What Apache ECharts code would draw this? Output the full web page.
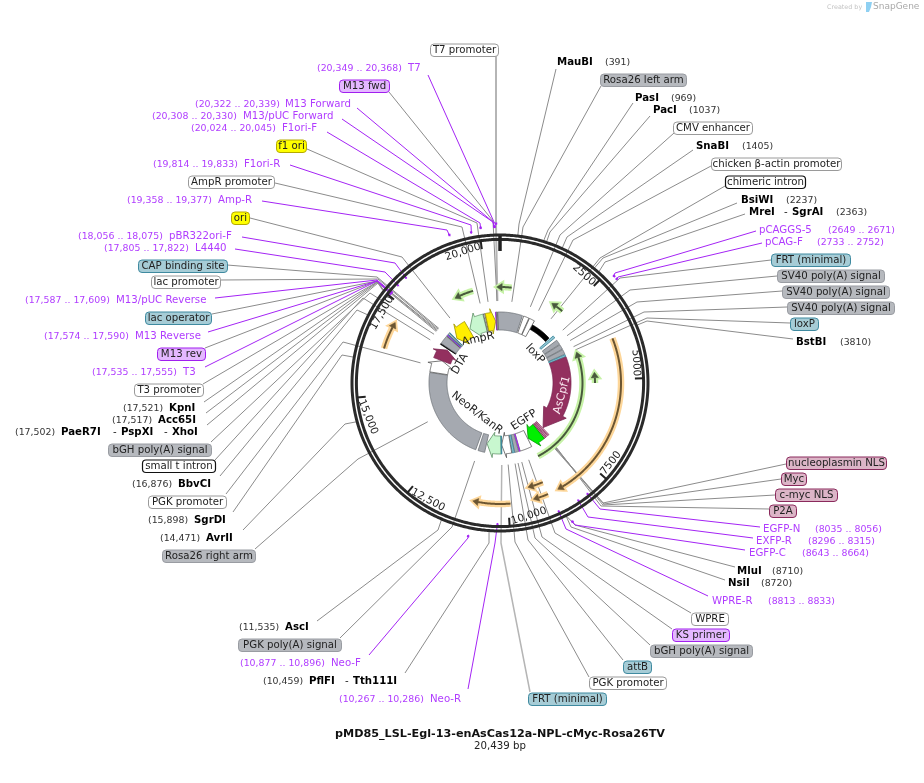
<!DOCTYPE html>
<html>
<head>
<meta charset="utf-8">
<title>pMD85 plasmid map</title>
<script src="https://cdn.jsdelivr.net/npm/echarts@6/dist/echarts.min.js"></script>
<style>
html, body { margin: 0; padding: 0; background: #fff; }
#main { width: 924px; height: 783px; }
</style>
</head>
<body>
<div id="main"></div>
<script>
// plasmid
const plasmidName = 'pMD85_LSL-Egl-13-enAsCas12a-NPL-cMyc-Rosa26TV';
const plasmidLength = 20439;

// ruler
const tickValues = [2500, 5000, 7500, 10000, 12500, 15000, 17500, 20000];
const tickLabels = ['2500', '5000', '7500', '10,000', '12,500', '15,000', '17,500', '20,000'];

// restriction sites
const siteNames = ['MauBI', 'PasI', 'PacI', 'SnaBI', 'BsiWI', 'MreI', 'SgrAI', 'BstBI', 'MluI', 'NsiI', 'PflFI', 'Tth111I', 'AscI', 'AvrII', 'SgrDI', 'BbvCI', 'PaeR7I', 'PspXI', 'XhoI', 'Acc65I', 'KpnI'];
const siteBp = [391, 969, 1037, 1405, 2237, 2363, 2363, 3810, 8710, 8720, 10459, 10459, 11535, 14471, 15898, 16876, 17502, 17502, 17502, 17517, 17521];

// primers
const primerNames = ['pCAGGS-5', 'pCAG-F', 'EGFP-N', 'EXFP-R', 'EGFP-C', 'WPRE-R', 'Neo-R', 'Neo-F', 'T3', 'M13 Reverse', 'M13/pUC Reverse', 'L4440', 'pBR322ori-F', 'Amp-R', 'F1ori-R', 'F1ori-F', 'M13/pUC Forward', 'M13 Forward', 'T7'];
const primerStart = [2649, 2733, 8035, 8296, 8643, 8813, 10267, 10877, 17535, 17574, 17587, 17805, 18056, 19358, 19814, 20024, 20308, 20322, 20349];
const primerEnd = [2671, 2752, 8056, 8315, 8664, 8833, 10286, 10896, 17555, 17590, 17609, 17822, 18075, 19377, 19833, 20045, 20330, 20339, 20368];

// features of the inner ring
const featureNames = ['Rosa26 left arm', 'CMV enhancer', 'chicken β-actin promoter', 'chimeric intron', 'FRT (minimal)', 'SV40 poly(A) signal', 'SV40 poly(A) signal', 'SV40 poly(A) signal', 'loxP', 'AsCpf1', 'nucleoplasmin NLS', 'Myc', 'c-myc NLS', 'P2A', 'EGFP', 'WPRE', 'KS primer', 'bGH poly(A) signal', 'attB', 'PGK promoter', 'NeoR/KanR', 'PGK poly(A) signal', 'Rosa26 right arm', 'PGK promoter', 'DTA', 'small t intron', 'bGH poly(A) signal', 'T3 promoter', 'M13 rev', 'lac operator', 'lac promoter', 'CAP binding site', 'ori', 'AmpR', 'AmpR promoter', 'f1 ori', 'M13 fwd', 'T7 promoter', 'FRT (minimal)'];
const featureStart = [20337, 1107, 1391, 1675, 2754, 3009, 3265, 3520, 3776, 3890, 7750, 7835, 7920, 7977, 8034, 8715, 9295, 9358, 9556, 9680, 10163, 10929, 11355, 15840, 16521, 17203, 17260, 17680, 17720, 17760, 17800, 17870, 17941, 18793, 19672, 19758, 20230, 20270, 10134];
const featureEnd = [21484, 1363, 1646, 2697, 2867, 3236, 3492, 3747, 3861, 7721, 7807, 7892, 7977, 8034, 8686, 9283, 9335, 9538, 9652, 10134, 10901, 11241, 15811, 16521, 17146, 17260, 17657, 17700, 17745, 17785, 17860, 17890, 18736, 19644, 19729, 20212, 20265, 20320, 10163];
const featureDir = [0, 0, 0, 0, 0, 0, 0, 0, 0, 1, 0, 0, 0, 0, 1, 0, 0, 0, 0, 1, 1, 0, 0, 1, 1, 0, 0, 0, 0, 0, 0, 0, -1, -1, 0, 1, 0, 0, 0];
const featureHead = [0, 0, 0, 0, 0, 0, 0, 0, 0, 1021, 0, 0, 0, 0, 340, 0, 0, 0, 0, 200, 340, 0, 0, 280, 280, 0, 0, 0, 0, 0, 0, 0, 340, 450, 0, 220, 0, 0, 0];
const featureKind = ['gray', 'white', 'white', 'black', 'teal', 'gray', 'gray', 'gray', 'teal', 'plum', 'nls', 'nls', 'nls', 'nls', 'lime', 'white', 'purple', 'gray', 'teal', 'white', 'mint', 'gray', 'gray', 'white', 'plum', 'black', 'gray', 'white', 'purple', 'teal', 'white', 'teal', 'yellow', 'mint', 'white', 'yellow', 'purple', 'white', 'teal'];

// translated frames, tail then head
const orfTail = [397, 19514, 2322, 5110, 8658, 3878, 8897, 8891, 9936, 16272];
const orfHead = [-114, 18849, 1874, 4741, 3861, 8601, 9368, 9311, 10958, 17033];
const orfKind = ['green', 'green', 'green', 'green', 'green', 'orange', 'orange', 'orange', 'orange', 'orange'];

// ---- layout, page pixels ----
const CX = 500, CY = 383, R = 149;
const orfRadius = [96, 96, 95, 95, 82.5, 121, 108, 121, 121, 121];

// feature index, box x0, x1, y, anchor x, y, elbow x, y, tip bp, line width
const featureLabels = [
    [37, 430, 498, 50, 496, 56, 496, 225, 20337, 2],
    [36, 339, 389, 86, 389, 92, 493, 221, 20320, 1],
    [35, 276, 306, 146, 307, 149, 477, 223, 19962, 1],
    [34, 188, 274, 182, 275, 183, 462, 227, 19642, 1],
    [32, 231, 249, 218, 250, 218, 402, 257, 18303, 1],
    [31, 138, 227, 266, 227, 265, 377, 277, 17700, 1],
    [30, 151, 220, 282, 220, 280, 378, 279, 17660, 1],
    [29, 145, 211, 318, 212, 314, 377, 281, 17620, 1],
    [28, 157, 205, 354, 205, 348, 377, 281, 17580, 1],
    [27, 134, 203, 390, 203, 384, 377, 282, 17540, 1],
    [26, 108, 211, 450, 211, 442, 370, 293, 17400, 1],
    [25, 142, 215, 466, 215, 460, 363, 298, 17130, 1],
    [23, 148, 226, 502, 226, 494, 343, 342, 16136, 1],
    [22, 162, 255, 556, 255, 549, 358, 459, 13728, 1],
    [21, 238, 341, 645, 340, 638, 452, 527, 11243, 1],
    [38, 528, 606, 699, 530, 692, 501, 543, 10150, 1.5],
    [19, 589, 666, 683, 589, 677, 515, 542, 9895, 1],
    [18, 623, 651, 667, 623, 660, 528, 540, 9618, 1],
    [17, 650, 752, 651, 650, 645, 535, 538, 9498, 1],
    [16, 672, 729, 635, 672, 629, 542, 537, 9345, 1],
    [15, 691, 728, 619, 691, 613, 555, 533, 9056, 1],
    [13, 769, 796, 511, 769, 509, 601, 506, 7870, 1],
    [12, 775, 837, 495, 775, 495, 603, 505, 7900, 1],
    [11, 781, 806, 479, 781, 479, 604, 504, 7930, 1],
    [10, 786, 886, 463, 786, 464, 603, 503, 7960, 1],
    [8, 790, 818, 324, 790, 323, 647, 318, 3764, 1],
    [7, 787, 894, 308, 787, 307, 644, 312, 3617, 1],
    [6, 782, 889, 292, 782, 291, 637, 302, 3338, 1],
    [5, 777, 884, 276, 777, 276, 630, 290, 3111, 1],
    [4, 771, 850, 260, 771, 260, 620, 278, 2833, 1],
    [3, 725, 805, 182, 725, 186, 600, 258, 2185, 1],
    [2, 711, 841, 164, 711, 166, 573, 240, 1595, 1],
    [1, 673, 752, 128, 674, 133, 560, 235, 1234, 1],
    [0, 600, 686, 80, 601, 86, 523, 227, 472, 1]
];

// site indexes on the row, their x, number x, y, anchor x, y, elbow x, y
const siteRows = [
    [[0], [557], 605, 62, 556, 69, 519, 224],
    [[1], [635], 671, 98, 633, 103, 548, 230],
    [[2], [653], 689, 110, 650, 116, 550, 232],
    [[3], [696], 742, 146, 693, 150, 567, 237],
    [[4], [741], 786, 200, 737, 203, 603, 258],
    [[5, 6], [749, 792], 836, 212, 745, 214, 605, 262],
    [[7], [796], 840, 342, 793, 339, 647, 321],
    [[8], [737], 772, 571, 735, 567, 575, 525],
    [[9], [728], 761, 583, 725, 580, 571, 527],
    [[10, 11], [309, 353], 263, 681, 405, 673, 489, 543],
    [[12], [285], 239, 627, 317, 621, 438, 530],
    [[13], [206], 160, 538, 243, 530, 345, 424],
    [[14], [194], 148, 520, 233, 512, 342, 355],
    [[15], [178], 132, 484, 220, 476, 357, 310],
    [[16, 17, 18], [61, 121, 172], 15, 432, 207, 425, 378, 283],
    [[19], [158], 112, 420, 206, 413, 378, 282],
    [[20], [169], 123, 408, 204, 402, 377, 282]
];

// name x, number x, y, anchor x, y, elbow x, y, mark radius, for each primer
const primerRows = [
    [759, 828, 230, 756, 231, 615, 273, 155],
    [765, 817, 242, 762, 243, 618, 277, 155],
    [763, 815, 529, 760, 527, 600, 509, 140],
    [756, 808, 541, 753, 538, 588, 517, 140],
    [749, 802, 553, 745, 550, 575, 525, 155],
    [712, 768, 601, 708, 596, 566, 529, 140],
    [430, 339, 699, 468, 689, 495, 543, 140],
    [331, 240, 663, 369, 655, 468, 538, 155],
    [183, 92, 372, 205, 367, 377, 281, 140],
    [135, 44, 336, 208, 332, 377, 281, 140],
    [116, 25, 300, 215, 298, 377, 280, 140],
    [195, 104, 248, 235, 249, 385, 272, 140],
    [169, 78, 236, 242, 237, 395, 263, 140],
    [218, 127, 200, 262, 201, 447, 230, 155],
    [244, 153, 164, 290, 165, 471, 225, 152],
    [282, 191, 128, 327, 132, 480, 223, 155],
    [243, 152, 116, 342, 119, 493, 222, 155],
    [285, 195, 104, 357, 108, 493, 222, 155],
    [408, 317, 68, 428, 75, 494, 222, 158]
];

// rotated text: centre x, y, rotation degrees
const tickLabelPos = [[584, 275, -42], [636, 363, -87], [611, 463, 52], [529, 516, 18], [428, 500, -28], [368, 417, -68], [382, 313, 60], [463, 252, 18]];
const innerLabels = [
    ['AmpR', 478, 339, 12, '#222', 11],
    ['loxP', 535, 354, -47, '#222', 11],
    ['DTA', 460, 364, 60, '#222', 11],
    ['NeoR/KanR', 477, 413, -38, '#222', 11],
    ['EGFP', 524, 420, 33, '#222', 11],
    ['AsCpf1', 562, 395, 75, '#fbeaf2', 11]
];

const FONT = '"DejaVu Sans", Verdana, sans-serif';
const arcFill = { gray: '#a5a9b0', white: '#ffffff', black: '#000000', teal: '#8fc3d0', plum: '#93305f', nls: '#dcb5c7', lime: '#00f000', purple: '#a020f0', mint: '#c8f7cf', yellow: '#ffee00' };
const arcStroke = { gray: '#6f7378', white: '#555555', black: '#000000', teal: '#2f7f96', plum: '#7a2550', nls: '#8a2a5c', lime: '#009900', purple: '#a020f0', mint: '#5e8f66', yellow: '#9c9000' };
const boxFill = { gray: '#b6b9be', white: '#ffffff', black: '#ffffff', teal: '#a6ccd6', plum: '#dcb5c7', nls: '#dcb5c7', purple: '#e4b8ff', yellow: '#ffff00' };
const boxStroke = { gray: '#999ca2', white: '#9a9a9a', black: '#111111', teal: '#3f8aa0', plum: '#8a2a5c', nls: '#8a2a5c', purple: '#a11fef', yellow: '#b5aa00' };
const PURPLE = '#b03cff';
const LINE_PURPLE = '#a424f5';

function fmtBp(n) {
    return n >= 10000 ? n.toLocaleString('en-US') : String(n);
}

function polyline(points, color, width, extra) {
    return Object.assign({
        type: 'polyline',
        shape: { points: points },
        style: { fill: 'none', stroke: color, lineWidth: width, lineJoin: 'round' }
    }, extra || {});
}

function textEl(text, x, y, color, size, weight, align) {
    return {
        type: 'text',
        style: {
            text: text, x: x, y: y, fill: color,
            font: (weight || 'normal') + ' ' + size + 'px ' + FONT,
            align: align || 'left', verticalAlign: 'middle'
        }
    };
}

function rotatedText(text, x, y, deg, color, size) {
    return {
        type: 'text',
        x: x, y: y, rotation: deg * Math.PI / 180,
        style: {
            text: text, x: 0, y: 0, fill: color,
            font: size + 'px ' + FONT,
            align: 'center', verticalAlign: 'middle'
        }
    };
}

function arcPoints(api, r, from, to) {
    const n = Math.max(2, Math.ceil(Math.abs(to - from) / 30));
    const pts = [];
    for (let i = 0; i <= n; i++) {
        pts.push(api.coord([r, from + (to - from) * i / n]));
    }
    return pts;
}

function indexData(arr) {
    return arr.map((_, i) => [i, 0]);
}

function customSeries(arr, z, renderItem) {
    return {
        type: 'custom',
        coordinateSystem: 'polar',
        data: indexData(arr),
        z: z,
        silent: true,
        clip: false,
        animation: false,
        renderItem: renderItem
    };
}

// leader lines
function renderFeatureLeader(params, api) {
    const row = featureLabels[params.dataIndex];
    const pts = [[row[4], row[5]], [row[6], row[7]], api.coord([82, row[8]])];
    return polyline(pts, row[9] > 1 ? '#b5b5b5' : '#8c8c8c', row[9]);
}

function renderSiteLeader(params, api) {
    const row = siteRows[params.dataIndex];
    const pts = [[row[4], row[5]], [row[6], row[7]], api.coord([R, siteBp[row[0][0]]])];
    return polyline(pts, '#8c8c8c', 1);
}

function renderPrimerLeader(params, api) {
    const i = params.dataIndex;
    const row = primerRows[i];
    const r = row[7];
    const mid = (primerStart[i] + primerEnd[i]) / 2;
    const tip = api.coord([r, mid]);
    const a = api.coord([r + 1.5, primerStart[i] - 15]);
    const b = api.coord([r + 1.5, primerEnd[i] + 15]);
    return {
        type: 'group',
        children: [
            polyline([[row[3], row[4]], [row[5], row[6]], tip], LINE_PURPLE, 1),
            polyline([a, b], LINE_PURPLE, 2.2)
        ]
    };
}

// two dark rings and the ruler ticks
function renderRing(params, api) {
    const radius = [148, 143.6];
    return polyline(arcPoints(api, radius[params.dataIndex], 0, plasmidLength), '#2a2a2a', 3);
}

function renderTick(params, api) {
    const bp = tickValues[params.dataIndex];
    const pos = tickLabelPos[params.dataIndex];
    return {
        type: 'group',
        children: [
            polyline([api.coord([144, bp]), api.coord([135, bp])], '#222', 2),
            rotatedText(tickLabels[params.dataIndex], pos[0], pos[1], pos[2], '#222', 10.5)
        ]
    };
}

// the origin mark at the top of the ring
function renderOrigin(params, api) {
    return polyline([api.coord([147, 0]), api.coord([132, 0])], '#222', 3.5);
}

// inner ring
function renderFeature(params, api) {
    const i = params.dataIndex;
    const kind = featureKind[i];
    let s = featureStart[i], e = featureEnd[i];
    let r1 = 53, r2 = 71;
    if (i === 3) { r1 = 61.5; r2 = 66.5; }
    let pts;
    if (featureDir[i] === 0) {
        pts = arcPoints(api, r2, s, e).concat(arcPoints(api, r1, e, s));
    } else {
        // tail on one side, head on the other
        const tail = featureDir[i] > 0 ? s : e;
        const tip = featureDir[i] > 0 ? e : s;
        const base = tip - featureDir[i] * featureHead[i];
        pts = arcPoints(api, r2, tail, base)
            .concat([api.coord([r2 + 4, base]), api.coord([(r1 + r2) / 2, tip]), api.coord([r1 - 3.5, base])])
            .concat(arcPoints(api, r1, base, tail));
    }
    return {
        type: 'polygon',
        shape: { points: pts },
        style: { fill: arcFill[kind], stroke: arcStroke[kind], lineWidth: 0.8, lineJoin: 'miter' }
    };
}

// translated frames: pale halo plus dark arrow
function renderOrf(params, api) {
    const i = params.dataIndex;
    const r = orfRadius[i];
    const t = orfTail[i], h = orfHead[i];
    const dir = h > t ? 1 : -1;
    const headLen = 5.5 / r * plasmidLength / (2 * Math.PI);
    const base = h - dir * headLen;
    const halo = orfKind[i] === 'green' ? '#c6f2a6' : '#fdd699';
    const dark = orfKind[i] === 'green' ? '#48583c' : '#6b5532';
    const head = [api.coord([r + 3.6, base]), api.coord([r, h]), api.coord([r - 3.6, base])];
    const body = arcPoints(api, r, t, base);
    return {
        type: 'group',
        children: [
            polyline(body, halo, 6.5),
            { type: 'polygon', shape: { points: head }, style: { fill: halo, stroke: halo, lineWidth: 4, lineJoin: 'miter' } },
            polyline(body, dark, 2),
            { type: 'polygon', shape: { points: head }, style: { fill: dark, stroke: dark, lineWidth: 0.5 } }
        ]
    };
}

// label boxes
function renderBox(params) {
    const row = featureLabels[params.dataIndex];
    const i = row[0];
    const kind = featureKind[i] === 'mint' || featureKind[i] === 'lime' ? 'white' : featureKind[i];
    const heavy = kind === 'black';
    return {
        type: 'group',
        children: [
            {
                type: 'rect',
                shape: { x: row[1] + 0.5, y: row[3] - 6, width: row[2] - row[1], height: 12.5, r: 3.5 },
                style: { fill: boxFill[kind], stroke: boxStroke[kind], lineWidth: heavy ? 1.2 : 1 }
            },
            textEl(featureNames[i], (row[1] + row[2]) / 2 + 0.5, row[3] + 0.5, '#222', 10.2, 'normal', 'center')
        ]
    };
}

function renderSiteText(params) {
    const row = siteRows[params.dataIndex];
    const children = [textEl('(' + fmtBp(siteBp[row[0][0]]) + ')', row[2], row[3] + 0.5, '#333', 9.4)];
    row[0].forEach((site, k) => {
        children.push(textEl(siteNames[site], row[1][k], row[3], '#000', 10.2, 'bold'));
        if (k > 0) {
            children.push(textEl('-', row[1][k] - 8, row[3], '#222', 10.2));
        }
    });
    return { type: 'group', children: children };
}

function renderPrimerText(params) {
    const i = params.dataIndex;
    const row = primerRows[i];
    return {
        type: 'group',
        children: [
            textEl(primerNames[i], row[0], row[2], PURPLE, 10.2),
            textEl('(' + fmtBp(primerStart[i]) + ' .. ' + fmtBp(primerEnd[i]) + ')', row[1], row[2] + 0.5, PURPLE, 9.4)
        ]
    };
}

function renderInnerLabel(params) {
    const row = innerLabels[params.dataIndex];
    return rotatedText(row[0], row[1], row[2], row[3], row[4], row[5]);
}

var myChart = echarts.init(document.getElementById('main'), null, { renderer: 'canvas' });

var option = {
    backgroundColor: '#ffffff',
    animation: false,
    polar: { center: [CX, CY], radius: R },
    angleAxis: { show: false, type: 'value', min: 0, max: plasmidLength, startAngle: 90, clockwise: true },
    radiusAxis: { show: false, type: 'value', min: 0, max: R },
    // title and corner credit
    graphic: [
        { type: 'text', x: 500, y: 734, style: { text: plasmidName, fill: '#111', font: 'bold 11.2px ' + FONT, align: 'center', verticalAlign: 'middle' } },
        { type: 'text', x: 500, y: 746, style: { text: plasmidLength.toLocaleString('en-US') + ' bp', fill: '#222', font: '10.2px ' + FONT, align: 'center', verticalAlign: 'middle' } },
        { type: 'text', x: 827, y: 7, style: { text: 'Created by', fill: '#c4c4c4', font: '6.4px ' + FONT, verticalAlign: 'middle' } },
        { type: 'polygon', shape: { points: [[866, 2], [872, 2], [871, 7], [869, 12], [866, 12]] }, style: { fill: '#8fd0f2' } },
        { type: 'text', x: 873, y: 7, style: { text: 'SnapGene', fill: '#a9a9a9', font: '9px ' + FONT, verticalAlign: 'middle' } }
    ],
    series: [
        customSeries(featureLabels, 1, renderFeatureLeader),
        customSeries(siteRows, 1, renderSiteLeader),
        customSeries(primerNames, 2, renderPrimerLeader),
        customSeries([0, 1], 3, renderRing),
        customSeries(tickValues, 4, renderTick),
        customSeries([0], 4, renderOrigin),
        customSeries(orfTail, 5, renderOrf),
        customSeries(featureNames, 6, renderFeature),
        customSeries(featureLabels, 7, renderBox),
        customSeries(siteRows, 7, renderSiteText),
        customSeries(primerNames, 7, renderPrimerText),
        customSeries(innerLabels, 8, renderInnerLabel)
    ]
};
myChart.setOption(option);
</script>
</body>
</html>
